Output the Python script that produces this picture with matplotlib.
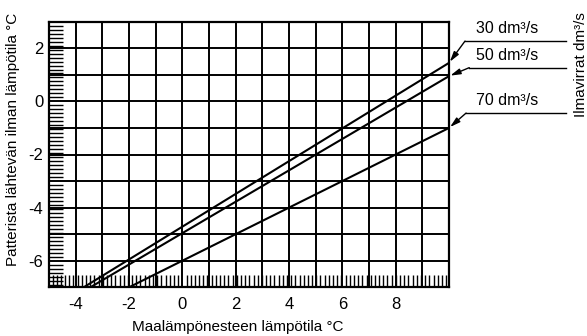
import numpy as np
import matplotlib
matplotlib.use("Agg")
import matplotlib.pyplot as plt
from matplotlib.ticker import MultipleLocator

plt.rcParams['font.family'] = ['Liberation Sans', 'DejaVu Sans']

# Data: each air-flow line read as two points (x, y) off the picture
flows = [30, 50, 70]
line_x = [[-3.7, 10.0], [-3.45, 10.0], [-2.0, 10.0]]
line_y = [[-7.0, 1.45], [-7.0, 0.95], [-7.0, -1.0]]
flow_labels = ["30 dm³/s", "50 dm³/s", "70 dm³/s"]

x_ticks = [-4, -2, 0, 2, 4, 6, 8]
y_ticks = [-6, -4, -2, 0, 2]
x_label = "Maalämpönesteen lämpötila °C"
y_label = "Patterista lähtevän ilman lämpötila °C"
right_label = "Ilmavirrat dm³/s"

W, H = 587, 336
fig = plt.figure(figsize=(W / 100, H / 100), dpi=100)
L, R, T, B = 49, 449, 21.7, 287.3
ax = fig.add_axes([L / W, 1 - B / H, (R - L) / W, (B - T) / H])
ax.set_xlim(-5, 10)
ax.set_ylim(-7, 3)

# grid every unit
ax.set_xticks(np.arange(-5, 11))
ax.set_xticklabels([str(v) if v in x_ticks else "" for v in range(-5, 11)])
ax.set_yticks(np.arange(-7, 4))
ax.set_yticklabels([str(v) if v in y_ticks else "" for v in range(-7, 4)])
ax.grid(True, which="major", color="black", lw=1.4)
ax.tick_params(which="major", length=0, labelsize=12)
ax.tick_params(axis="x", which="major", pad=7)
ax.tick_params(axis="y", which="major", pad=4)

ax.xaxis.set_minor_locator(MultipleLocator(0.157))
ax.yaxis.set_minor_locator(MultipleLocator(0.15))
ax.tick_params(axis="x", which="minor", direction="in", length=9, width=1.0,
               bottom=True, top=False)
ax.tick_params(axis="y", which="minor", direction="in", length=10, width=1.0,
               left=True, right=False)
for s in ax.spines.values():
    s.set_linewidth(1.6)
    s.set_color("black")

for xs, ys in zip(line_x, line_y):
    ax.plot(xs, ys, color="black", lw=1.5, clip_on=True)

# leader lines to labels (data coords outside axes)
leader_y = [2.27, 1.27, -0.44]
leader_x0 = [10.6, 10.76, 10.64]
leader_x1 = 14.39
for xs, ys, ly, lx0, lab in zip(line_x, line_y, leader_y, leader_x0, flow_labels):
    ax.plot([lx0, leader_x1], [ly, ly], color="black", lw=1.0, clip_on=False)
    ax.annotate("", xy=(xs[1], ys[1]), xytext=(lx0, ly),
                arrowprops=dict(arrowstyle="-|>,head_length=0.6,head_width=0.17",
                                color="black", lw=1.0, shrinkA=0, shrinkB=1),
                annotation_clip=False)
    ax.text(11.0, ly + 0.18, lab, fontsize=11.5, ha="left", va="bottom",
            clip_on=False)

fig.text(237.5 / W, 1 - 327 / H, x_label, fontsize=11, ha="center", va="center")
fig.text(13 / W, 1 - 139 / H, y_label, fontsize=11, ha="center", va="center",
         rotation=90)
fig.text(581 / W, 1 - 65 / H, right_label, fontsize=11, ha="center", va="center",
         rotation=90)

fig.savefig("out.png", dpi=100)
